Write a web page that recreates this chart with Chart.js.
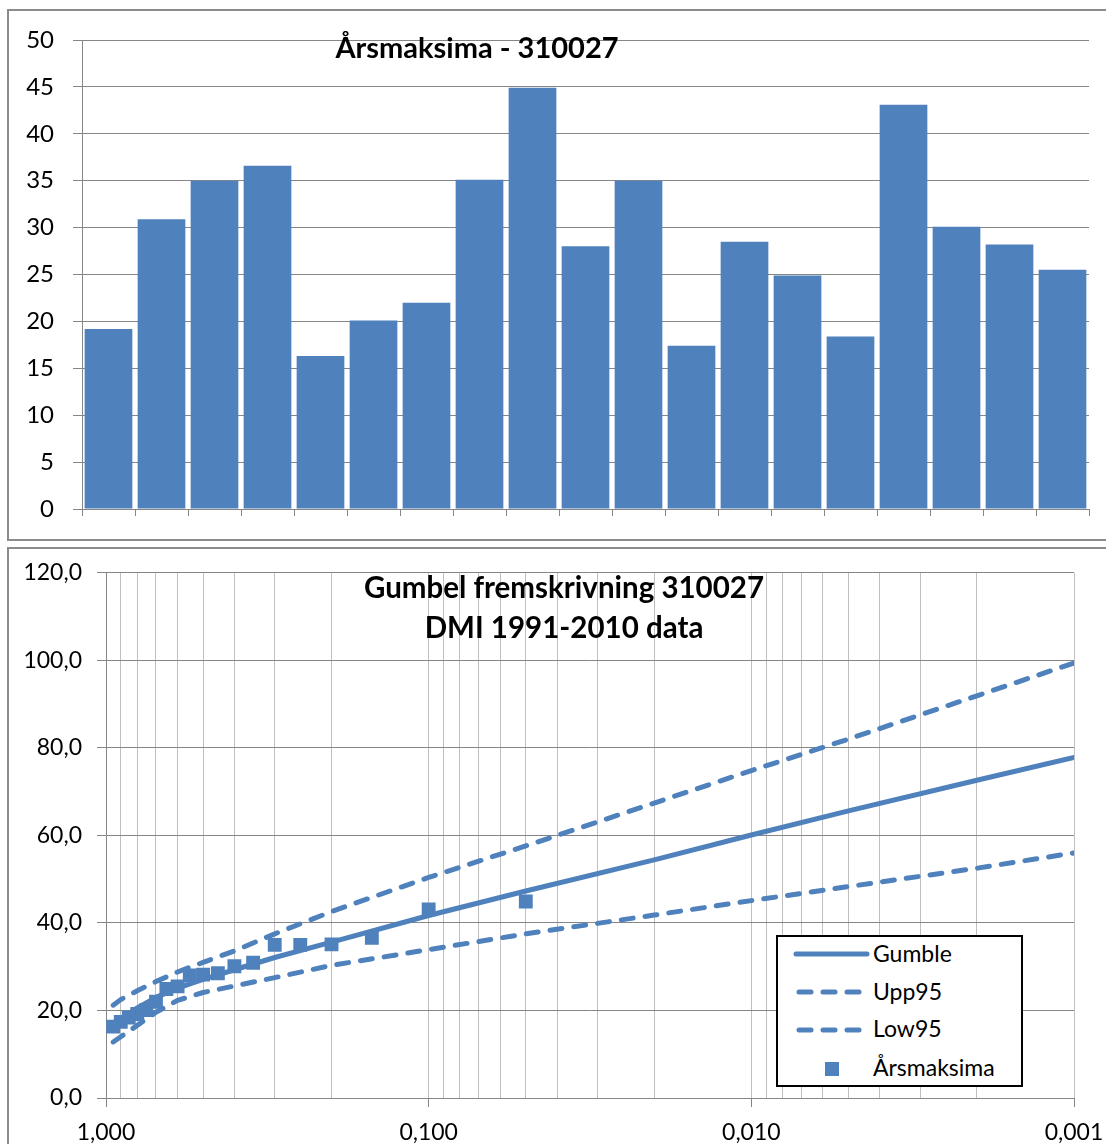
<!DOCTYPE html>
<html>
<head>
<meta charset="utf-8">
<script src="https://cdn.jsdelivr.net/npm/chart.js@4.4.1/dist/chart.umd.min.js"></script>
<style>
  html, body { margin:0; padding:0; background:#fff; width:1106px; height:1144px; overflow:hidden; position:relative; font-family:Lato, "Open Sans", sans-serif; }
  .frame { position:absolute; border:2px solid #8c8c8c; box-sizing:border-box; }
  canvas { position:absolute; left:0; }
  #c1 { top:0; }
  #c2 { top:544px; }
  .title { position:absolute; font-weight:bold; color:#000; text-align:center; white-space:nowrap; transform:translateX(-50%); line-height:40px; }
  #legend { position:absolute; left:776px; top:935px; width:247px; height:152px; border:2px solid #000; box-sizing:border-box; background:#fff; }
  .lgtext { position:absolute; left:95px; font-size:23px; line-height:30px; color:#000; white-space:nowrap; }
  #legend svg { position:absolute; left:0; top:0; }
</style>
</head>
<body>
<div class="frame" style="left:7px;top:9px;width:1130px;height:532px;"></div>
<div class="frame" style="left:7px;top:547px;width:1130px;height:640px;"></div>
<canvas id="c1" width="1106" height="543"></canvas>
<canvas id="c2" width="1106" height="600"></canvas>
<div class="title" style="left:477px;top:27px;font-size:29px;">Årsmaksima - 310027</div>
<div class="title" style="left:564px;top:567px;font-size:29.5px;">Gumbel fremskrivning 310027<br>DMI 1991-2010 data</div>
<div id="legend">
  <svg width="243" height="148">
    <line x1="18" y1="17" x2="89" y2="17" stroke="#4F81BD" stroke-width="5" stroke-linecap="round"/>
    <line x1="21" y1="55" x2="89" y2="55" stroke="#4F81BD" stroke-width="5" stroke-linecap="round" stroke-dasharray="12 12"/>
    <line x1="21" y1="93" x2="89" y2="93" stroke="#4F81BD" stroke-width="5" stroke-linecap="round" stroke-dasharray="12 12"/>
    <rect x="47" y="125" width="14" height="14" fill="#4F81BD"/>
  </svg>
  <div class="lgtext" style="top:1px;">Gumble</div>
  <div class="lgtext" style="top:39px;">Upp95</div>
  <div class="lgtext" style="top:76px;">Low95</div>
  <div class="lgtext" style="top:115px;">Årsmaksima</div>
</div>
<script>
// ---------- Top chart data ----------
const categories = ['1','2','3','4','5','6','7','8','9','10','11','12','13','14','15','16','17','18','19'];
const annualMax = [19.2, 30.9, 35.0, 36.6, 16.3, 20.1, 22.0, 35.1, 44.9, 28.0, 35.0, 17.4, 28.5, 24.9, 18.4, 43.1, 30.1, 28.2, 25.5];
const barAxisMin = 0, barAxisMax = 50, barAxisStep = 5;

// ---------- Bottom chart data ----------
const probLine = [0.95, 0.9, 0.8, 0.7, 0.6, 0.5, 0.4, 0.3, 0.2, 0.1, 0.05, 0.02, 0.01, 0.005, 0.002, 0.001];
const gumble   = [16.3, 18.0, 20.6, 23.0, 25.1, 27.1, 29.3, 32.1, 35.6, 41.7, 47.3, 54.4, 60.1, 65.6, 72.6, 77.8];
const upp95    = [21.2, 22.5, 24.5, 26.6, 28.8, 31.0, 33.6, 37.5, 42.6, 50.4, 57.6, 67.4, 74.8, 82.0, 91.9, 99.4];
const low95    = [12.8, 14.0, 16.6, 19.6, 22.3, 24.1, 25.6, 27.5, 30.3, 33.9, 37.5, 41.8, 45.1, 48.3, 52.5, 56.0];
const probObs  = [0.05, 0.10, 0.15, 0.20, 0.25, 0.30, 0.35, 0.40, 0.45, 0.50, 0.55, 0.60, 0.65, 0.70, 0.75, 0.80, 0.85, 0.90, 0.95];
const obsSorted = [44.9, 43.1, 36.6, 35.1, 35.0, 35.0, 30.9, 30.1, 28.5, 28.2, 28.0, 25.5, 24.9, 22.0, 20.1, 19.2, 18.4, 17.4, 16.3];
const xMajorTicks = [1, 0.1, 0.01, 0.001];
const yAxisMin = 0, yAxisMax = 120, yAxisStep = 20;

const BLUE = '#4F81BD';
const GRID = '#868686';

// ---------- Top chart ----------
new Chart(document.getElementById('c1'), {
  type: 'bar',
  data: {
    labels: categories,
    datasets: [{
      data: annualMax,
      backgroundColor: BLUE,
      borderWidth: 0,
      barPercentage: 0.9,
      categoryPercentage: 1.0
    }]
  },
  options: {
    responsive: false, animation: false, devicePixelRatio: 1,
    layout: { padding: { left: 0, top: 40, right: 17, bottom: 0 } },
    plugins: { legend: { display: false }, tooltip: { enabled: false } },
    scales: {
      x: {
        type: 'category', offset: true,
        grid: { offset: true, drawOnChartArea: false, color: GRID, tickLength: 7 },
        border: { color: GRID },
        ticks: { display: false },
        afterFit: s => { s.height = 34; }
      },
      y: {
        min: barAxisMin, max: barAxisMax,
        ticks: { stepSize: barAxisStep, color: '#000', font: { family: 'Lato', size: 24 }, padding: 19 },
        grid: { color: GRID, tickLength: 9 },
        border: { color: GRID },
        afterFit: s => { s.width = 82; }
      }
    }
  }
});

// ---------- Bottom chart ----------
function isMajorVal(v) {
  const l = Math.log10(v);
  return Math.abs(l - Math.round(l)) < 1e-9;
}
const gridValues = [];
for (let e = -3; e <= 0; e++) {
  for (let m = 1; m <= 9; m++) {
    const v = +(m * Math.pow(10, e)).toPrecision(6);
    if (v >= 0.001 && v <= 1) gridValues.push(v);
  }
}
const toXY = (xs, ys) => xs.map((x, i) => ({ x: x, y: ys[i] }));
const tickFont = { family: 'Lato', size: 23 };

new Chart(document.getElementById('c2'), {
  type: 'scatter',
  data: {
    datasets: [
      { label: 'Årsmaksima', data: toXY(probObs, obsSorted), showLine: false,
        pointStyle: 'rect', pointRadius: 9.8, backgroundColor: BLUE, borderWidth: 0, order: 0 },
      { label: 'Gumble', data: toXY(probLine, gumble), showLine: true, borderColor: BLUE,
        borderWidth: 5, pointRadius: 0, borderCapStyle: 'round', borderJoinStyle: 'round', order: 1 },
      { label: 'Upp95', data: toXY(probLine, upp95), showLine: true, borderColor: BLUE,
        borderWidth: 5, pointRadius: 0, borderDash: [12, 12], borderCapStyle: 'round', order: 2 },
      { label: 'Low95', data: toXY(probLine, low95), showLine: true, borderColor: BLUE,
        borderWidth: 5, pointRadius: 0, borderDash: [12, 12], borderCapStyle: 'round', order: 3 }
    ]
  },
  options: {
    responsive: false, animation: false, devicePixelRatio: 1,
    layout: { padding: { left: 0, top: 26, right: 32, bottom: 0 } },
    plugins: { legend: { display: false }, tooltip: { enabled: false } },
    scales: {
      x: {
        type: 'logarithmic', reverse: true, min: 0.001, max: 1,
        afterBuildTicks: s => { s.ticks = gridValues.map(v => ({ value: v, major: isMajorVal(v) })); },
        ticks: {
          autoSkip: false, maxRotation: 0, minRotation: 0, color: '#000', font: tickFont, padding: 12,
          callback: v => (xMajorTicks.some(t => Math.abs(t - v) < 1e-12) ? v.toFixed(3).replace('.', ',') : '')
        },
        grid: {
          color: '#BFBFBF', tickLength: 9,
          tickColor: ctx => (ctx.tick && isMajorVal(ctx.tick.value) ? GRID : 'rgba(0,0,0,0)')
        },
        border: { color: GRID },
        afterFit: s => { s.height = 46; }
      },
      y: {
        min: yAxisMin, max: yAxisMax,
        ticks: { stepSize: yAxisStep, color: '#000', font: tickFont, padding: 15,
          callback: v => Number(v).toFixed(1).replace('.', ',') },
        grid: { color: GRID, tickLength: 9 },
        border: { color: GRID },
        afterFit: s => { s.width = 106; }
      }
    }
  }
});
</script>
</body>
</html>
